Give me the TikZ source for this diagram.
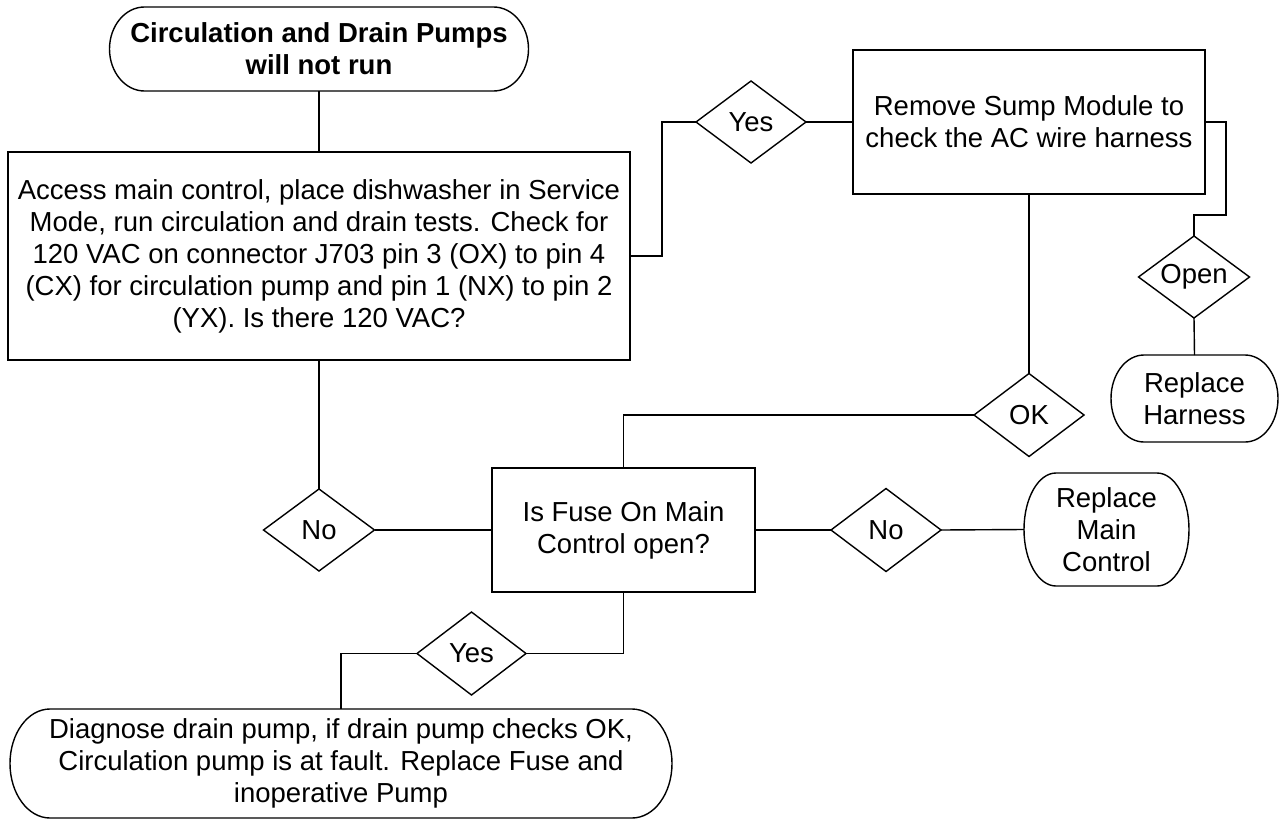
\documentclass[tikz,border=0pt]{standalone}
\usepackage{fontspec}
\setmainfont{Liberation Sans}
\usetikzlibrary{shapes.geometric}
\tikzset{
  ln/.style={draw=black, line width=1.4pt},
  txt/.style={font=\fontsize{27.5pt}{32pt}\selectfont, align=center, inner sep=0pt, outer sep=0pt, text=black},
  procbox/.style={txt, ln, rectangle},
  decis/.style={txt, ln, diamond, aspect=1.33},
  termtext/.style={txt, rectangle, draw=none},
}
% name, cx, cy, w, h, rx, text
\newcommand\myterminal[7]{%
  \node[termtext, minimum width=#4pt, minimum height=#5pt] (#1) at (#2,#3) {#7};
  \draw[ln] ([xshift=#6pt]#1.north west) -- ([xshift=-#6pt]#1.north east)
     arc[start angle=90, end angle=-90, x radius=#6, y radius={#5*0.5}]
     -- ([xshift=#6pt]#1.south west)
     arc[start angle=270, end angle=90, x radius=#6, y radius={#5*0.5}] -- cycle;
}
\begin{document}
\begin{tikzpicture}[x=1pt, y=1pt]
\useasboundingbox (0,0) rectangle (1280,-819);
\fill[white] (0,0) rectangle (1280,-819);

\myterminal{start}{319}{-49}{419}{84}{35}{\bfseries Circulation and Drain Pumps\\\bfseries will not run}

\node[procbox, minimum width=622pt, minimum height=208pt] (box1) at (319,-256)
  {Access main control, place dishwasher in Service\\
   Mode, run circulation and drain tests. Check for\\
   120 VAC on connector J703 pin 3 (OX) to pin 4\\
   (CX) for circulation pump and pin 1 (NX) to pin 2\\
   (YX). Is there 120 VAC?};

\node[decis, minimum width=110pt, minimum height=82pt] (yes1) at (751,-122) {Yes};

\node[procbox, minimum width=352pt, minimum height=144pt] (box2) at (1029,-122)
  {Remove Sump Module to\\check the AC wire harness};

\node[decis, minimum width=111pt, minimum height=82pt] (open) at (1194,-277) {Open};

\myterminal{harness}{1194.5}{-398.5}{167}{87}{33}{Replace\\Harness}

\node[decis, minimum width=110pt, minimum height=83pt] (ok) at (1029,-415) {OK};

\node[procbox, minimum width=263pt, minimum height=124pt] (box3) at (623.5,-530)
  {Is Fuse On Main\\Control open?};

\node[decis, minimum width=111pt, minimum height=82pt] (no1) at (319,-530) {No};

\node[decis, minimum width=110pt, minimum height=83pt] (no2) at (886,-530) {No};

\myterminal{rmc}{1106.5}{-529.5}{165}{113}{32}{Replace\\Main\\Control}

\node[decis, minimum width=109pt, minimum height=83pt] (yes2) at (471.5,-653.5) {Yes};

\myterminal{final}{341}{-763.5}{662}{109}{40}{Diagnose drain pump, if drain pump checks OK,\\
  Circulation pump is at fault. Replace Fuse and\\inoperative Pump}

\coordinate (j1) at (662,-256);
\coordinate (j2) at (1226,-215);

\draw[ln] (start.south) -- (box1.north);
\draw[ln] (box1.east) -- (j1) |- (yes1.west);
\draw[ln] (yes1.east) -- (box2.west);
\draw[ln] (box2.east) -| (j2) -| (open.north);
\draw[ln] (open.south) -- (harness.north);
\draw[ln] (box2.south) -- (ok.north);
\draw[ln] (ok.west) -| (box3.north);
\draw[ln] (box1.south) -- (no1.north);
\draw[ln] (no1.east) -- (box3.west);
\draw[ln] (box3.east) -- (no2.west);
\draw[ln] (no2.east) -- (rmc.west);
\draw[ln] (box3.south) |- (yes2.east);
\draw[ln] (yes2.west) -| (final.north);
\end{tikzpicture}
\end{document}
